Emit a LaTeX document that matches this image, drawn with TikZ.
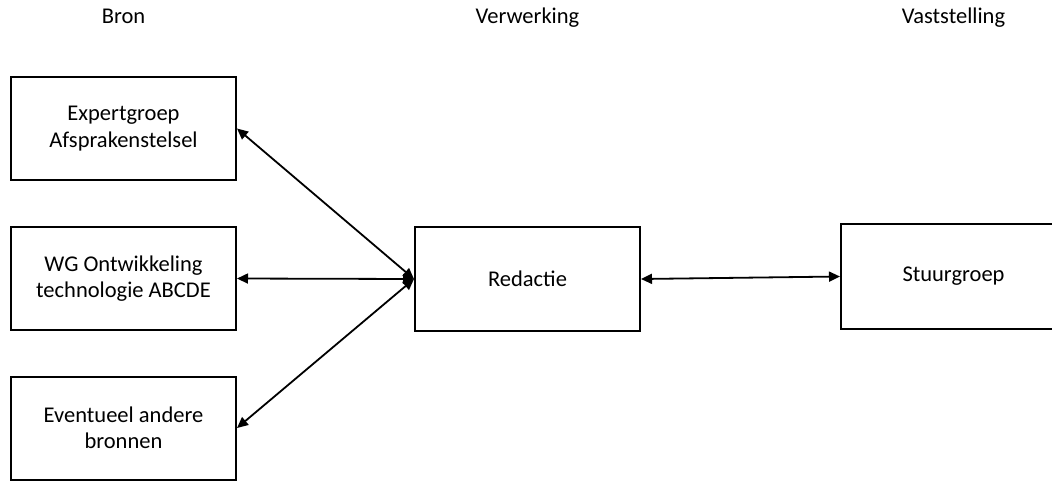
\documentclass[tikz,border=0pt]{standalone}
\usepackage{fontspec}
\setmainfont{Carlito}
\usepackage{tikz}
\usetikzlibrary{arrows.meta}
\pgfkeys{tikz/mybox/.style={draw,line width=2pt,minimum width=225pt,minimum height=103pt,align=center,inner sep=0pt,font=\fontsize{22.5}{26.5}\selectfont}}
\pgfkeys{tikz/myheader/.style={anchor=base,inner sep=0pt,font=\fontsize{22.5}{26.5}\selectfont}}
\pgfkeys{tikz/myarrow/.style={line width=1.8pt,{Triangle[length=11pt,width=10pt]}-{Triangle[length=11pt,width=10pt]}}}
\newcommand*\mylink[2]{
    \draw[myarrow] (#1.east) -- (#2.west);
}

\begin{document}
\begin{tikzpicture}[x=1pt,y=-1pt]
    \useasboundingbox (0,0) rectangle (1052,480);
    % kolomkoppen
    \node[myheader] (hbron) at (123.5,23) {Bron};
    \node[myheader] (hverw) at (527.5,23) {Verwerking};
    \node[myheader] (hvast) at (953.5,23) {Vaststelling};
    % bronnen
    \node[mybox] (expert) at (123.5,128.5) {Expertgroep\\Afsprakenstelsel};
    \node[mybox] (wg) at (123.5,278.5) {WG Ontwikkeling\\technologie ABCDE};
    \node[mybox] (andere) at (123.5,428) {Eventueel andere\\bronnen};
    % verwerking en vaststelling
    \node[mybox,minimum height=104pt] (redactie) at (527.5,279) {Redactie};
    \node[mybox,minimum height=105pt] (stuur) at (953.5,276.5) {Stuurgroep};
    \mylink{expert}{redactie}
    \mylink{wg}{redactie}
    \mylink{andere}{redactie}
    \mylink{redactie}{stuur}
\end{tikzpicture}
\end{document}
